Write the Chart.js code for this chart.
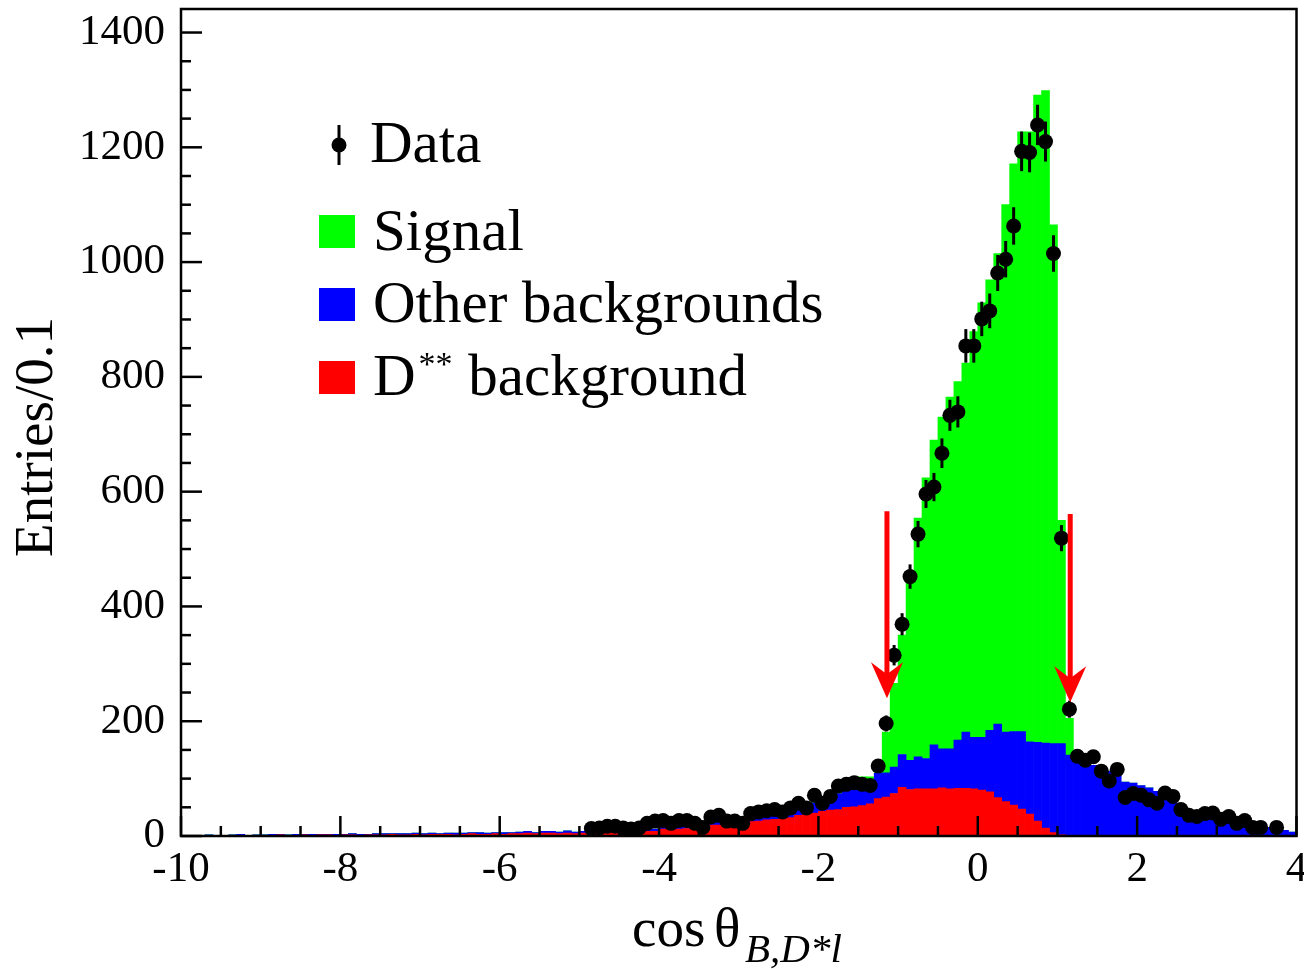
<!DOCTYPE html>
<html>
<head>
<meta charset="utf-8">
<title>cos theta B,D*l</title>
<script src="https://cdn.jsdelivr.net/npm/chart.js@4.4.1/dist/chart.umd.min.js"></script>
<style>
  html, body { margin: 0; padding: 0; background: #fff; }
  canvas { display: block; }
</style>
</head>
<body>
<canvas id="cosThetaChart" width="1304" height="969"></canvas>
<script>
// histogram binning: 140 bins of 0.1 from -10 to 4
const X_MIN = -10;
const X_MAX = 4;
const BIN_WIDTH = 0.1;
const binCenters = [];
for (let i = 0; i < 140; i++) binCenters.push(+(X_MIN + BIN_WIDTH * (i + 0.5)).toFixed(2));

const yTickLabels = [0, 200, 400, 600, 800, 1000, 1200, 1400];
const xTickLabels = [-10, -8, -6, -4, -2, 0, 2, 4];

// D** background (red), bottom of the stack
const dstarBkg = [
  0, 1, 0, 1, 1, 0, 1, 1, 0, 1,
  1, 1, 2, 1, 1, 2, 1, 2, 2, 1,
  2, 2, 1, 2, 2, 2, 3, 2, 2, 3,
  2, 3, 3, 3, 2, 3, 4, 3, 3, 4,
  3, 4, 4, 5, 4, 5, 5, 4, 5, 4,
  5, 5, 5, 6, 6, 6, 7, 7, 8, 8,
  12, 12, 12, 13, 14, 16, 19, 19, 20, 22,
  24, 25, 26, 28, 29, 30, 32, 36, 38, 40,
  43, 45, 46, 50, 51, 53, 56, 65, 68, 74,
  85, 81, 82, 82, 82, 84, 82, 83, 83, 82,
  80, 77, 67, 60, 54, 47, 38, 26, 14, 6,
  2, 1, 1, 0, 0, 0, 0, 0, 0, 0,
  0, 0, 0, 0, 0, 0, 0, 0, 0, 0,
  0, 0, 0, 0, 0, 0, 0, 0, 0, 0
];

// Other backgrounds (blue), stacked on the red
const otherBkg = [
  1, 0, 1, 1, 0, 1, 1, 2, 1, 1,
  1, 2, 1, 1, 2, 1, 2, 1, 1, 2,
  1, 2, 2, 1, 2, 2, 1, 2, 2, 2,
  2, 2, 1, 2, 3, 2, 2, 3, 2, 2,
  3, 2, 3, 3, 2, 3, 3, 3, 4, 3,
  3, 4, 3, 4, 4, 3, 4, 4, 5, 4,
  4, 5, 5, 5, 6, 5, 6, 6, 7, 6,
  6, 7, 6, 7, 7, 6, 8, 14, 16, 18,
  19, 20, 28, 35, 42, 44, 42, 44, 42, 46,
  57, 51, 56, 53, 77, 68, 70, 84, 98, 90,
  92, 107, 128, 121, 128, 135, 126, 137, 148, 155,
  159, 140, 134, 130, 123, 115, 113, 110, 94, 92,
  88, 84, 78, 70, 62, 55, 42, 38, 35, 34,
  30, 28, 26, 23, 20, 17, 15, 14, 10, 7
];

// Signal (green), top of the stack
const signalMC = [
  0, 0, 0, 0, 0, 0, 0, 0, 0, 0,
  0, 0, 0, 0, 0, 0, 0, 0, 0, 0,
  0, 0, 0, 0, 0, 0, 0, 0, 0, 0,
  0, 0, 0, 0, 0, 0, 0, 0, 0, 0,
  0, 0, 0, 0, 0, 0, 0, 0, 0, 0,
  0, 0, 0, 0, 0, 0, 0, 0, 0, 0,
  1, 0, 1, 1, 0, 1, 1, 1, 0, 1,
  1, 1, 1, 2, 1, 2, 1, 2, 2, 2,
  2, 3, 3, 2, 3, 6, 5, 16, 71, 146,
  208, 316, 416, 489, 531, 578, 613, 625, 643, 707,
  757, 785, 820, 919, 989, 1045, 1063, 1128, 1137, 904,
  389, 64, 0, 0, 0, 0, 0, 0, 0, 0,
  0, 0, 0, 0, 0, 0, 0, 0, 0, 0,
  0, 0, 0, 0, 0, 0, 0, 0, 0, 0
];

// Data entries (null = no marker drawn)
const dataCounts = [
  null, null, null, null, null, null, null, null, null, null,
  null, null, null, null, null, null, null, null, null, null,
  null, null, null, null, null, null, null, null, null, null,
  null, null, null, null, null, null, null, null, null, null,
  null, null, null, null, null, null, null, null, null, null,
  null, 13, 14, 17, 17, 14, 12, 14, 22, 26,
  27, 22, 27, 27, 22, 15, 33, 36, 26, 26,
  22, 39, 42, 44, 46, 42, 49, 57, 49, 71,
  57, 69, 87, 90, 93, 90, 88, 122, 196, 315,
  369, 452, 526, 596, 608, 667, 733, 739, 854, 854,
  901, 915, 981, 1005, 1063, 1193, 1191, 1239, 1210, 1015,
  519, 221, 139, 132, 138, 113, 96, 116, 67, 74,
  71, 63, 57, 75, 69, 46, 36, 34, 39, 40,
  29, 34, 22, 27, 15, 15, null, 15, null, null
];

// selection cut arrows
const cutArrows = [
  { x: -1.14, from: 566, to: 240 },
  { x: 1.16, from: 561, to: 233 }
];

const SERIF = "'Liberation Serif', 'Times New Roman', serif";
const GREEN = '#00ff00';
const BLUE = '#0000ff';
const RED = '#ff0000';

function toXY(values) {
    return values.map((v, i) => ({ x: binCenters[i], y: v }));
}

/**
 * Error bars (sqrt N) under the data markers.
 */
const errorBars = {
    id: 'errorBars',
    beforeDatasetDraw(chart, args) {
        if (chart.data.datasets[args.index].label !== 'Data') return;
        const { ctx, scales: { x, y } } = chart;
        ctx.save();
        ctx.strokeStyle = '#000';
        ctx.lineWidth = 3;
        dataCounts.forEach((n, i) => {
            if (n === null) return;
            const err = Math.sqrt(n);
            const px = x.getPixelForValue(binCenters[i]);
            ctx.beginPath();
            ctx.moveTo(px, y.getPixelForValue(n - err));
            ctx.lineTo(px, y.getPixelForValue(n + err));
            ctx.stroke();
        });
        ctx.restore();
    }
};

/**
 * ROOT-like frame, inward ticks, arrows, legend and axis titles.
 */
const rootDecor = {
    id: 'rootDecor',
    afterDraw(chart) {
        const { ctx, chartArea: a, scales: { x, y } } = chart;
        ctx.save();

        // cut arrows
        ctx.strokeStyle = RED;
        ctx.fillStyle = RED;
        ctx.lineWidth = 5;
        cutArrows.forEach(ar => {
            const px = x.getPixelForValue(ar.x);
            const top = y.getPixelForValue(ar.from);
            const tip = y.getPixelForValue(ar.to);
            ctx.beginPath();
            ctx.moveTo(px, top);
            ctx.lineTo(px, tip - 20);
            ctx.stroke();
            ctx.beginPath();
            ctx.moveTo(px, tip);
            ctx.lineTo(px - 16, tip - 36);
            ctx.lineTo(px, tip - 24);
            ctx.lineTo(px + 16, tip - 36);
            ctx.closePath();
            ctx.fill();
        });

        // frame
        ctx.strokeStyle = '#000';
        ctx.lineWidth = 2.5;
        ctx.strokeRect(a.left, a.top, a.right - a.left, a.bottom - a.top);

        // x ticks, every 0.5, long ones every 2
        for (let v = X_MIN; v <= X_MAX + 1e-9; v += 0.5) {
            const px = x.getPixelForValue(v);
            const len = Math.abs(v % 2) < 1e-9 ? 20 : 10;
            ctx.beginPath();
            ctx.moveTo(px, a.bottom);
            ctx.lineTo(px, a.bottom - len);
            ctx.stroke();
        }
        // y ticks, every 50, long ones every 200
        for (let v = 0; v <= 1400; v += 50) {
            const py = y.getPixelForValue(v);
            const len = v % 200 === 0 ? 21 : 10;
            ctx.beginPath();
            ctx.moveTo(a.left, py);
            ctx.lineTo(a.left + len, py);
            ctx.stroke();
        }

        // legend
        ctx.fillStyle = '#000';
        ctx.lineWidth = 3;
        ctx.beginPath();
        ctx.moveTo(339, 125);
        ctx.lineTo(339, 165);
        ctx.stroke();
        ctx.beginPath();
        ctx.arc(339, 145, 7.5, 0, Math.PI * 2);
        ctx.fill();

        const legendFont = '59px ' + SERIF;
        ctx.font = legendFont;
        ctx.textBaseline = 'alphabetic';
        ctx.textAlign = 'left';
        ctx.fillText('Data', 370, 162);

        ctx.fillStyle = GREEN;
        ctx.fillRect(319, 215, 36, 33);
        ctx.fillStyle = BLUE;
        ctx.fillRect(319, 288, 36, 33);
        ctx.fillStyle = RED;
        ctx.fillRect(319, 361, 36, 33);

        ctx.fillStyle = '#000';
        ctx.fillText('Signal', 373, 250);
        ctx.fillText('Other backgrounds', 373, 322);
        ctx.fillText('D', 373, 395);
        const dW = ctx.measureText('D').width;
        ctx.font = '34px ' + SERIF;
        ctx.fillText('**', 373 + dW + 3, 375);
        const sW = ctx.measureText('**').width;
        ctx.font = legendFont;
        ctx.fillText(' background', 373 + dW + 4 + sW, 395);

        // y title
        ctx.save();
        ctx.translate(38, 437);
        ctx.rotate(-Math.PI / 2);
        ctx.textAlign = 'center';
        ctx.textBaseline = 'middle';
        ctx.font = '55px ' + SERIF;
        ctx.fillText('Entries/0.1', 0, 0);
        ctx.restore();

        // x title: cos θ_{B,D*l}
        ctx.font = '55px ' + SERIF;
        ctx.textAlign = 'left';
        ctx.textBaseline = 'alphabetic';
        ctx.fillText('cos', 632, 946);
        ctx.fillText('θ', 714, 946);
        ctx.font = 'italic 41px ' + SERIF;
        ctx.fillText('B,D*l', 745, 962);

        ctx.restore();
    }
};

const ctx = document.getElementById('cosThetaChart').getContext('2d');
const cosThetaChart = new Chart(ctx, {
    type: 'bar',
    data: {
        datasets: [
            {
                type: 'scatter', label: 'Data',
                data: toXY(dataCounts).filter(p => p.y !== null),
                backgroundColor: '#000', borderColor: '#000',
                pointRadius: 7.5, pointHoverRadius: 7.5, borderWidth: 0,
                order: 0, stack: 'data', clip: false
            },
            {
                label: 'D** background', data: toXY(dstarBkg),
                backgroundColor: RED, borderWidth: 0, stack: 'mc', order: 1,
                barPercentage: 1, categoryPercentage: 1
            },
            {
                label: 'Other backgrounds', data: toXY(otherBkg),
                backgroundColor: BLUE, borderWidth: 0, stack: 'mc', order: 1,
                barPercentage: 1, categoryPercentage: 1
            },
            {
                label: 'Signal', data: toXY(signalMC),
                backgroundColor: GREEN, borderWidth: 0, stack: 'mc', order: 1,
                barPercentage: 1, categoryPercentage: 1
            }
        ]
    },
    options: {
        responsive: false,
        animation: false,
        layout: { padding: { top: 9, right: 3, left: 0, bottom: 0 } },
        scales: {
            x: {
                type: 'linear', min: X_MIN, max: X_MAX, offset: false, stacked: true,
                grid: { display: false, offset: false, drawTicks: false },
                border: { display: false },
                afterBuildTicks: s => { s.ticks = xTickLabels.map(v => ({ value: v })); },
                ticks: {
                    autoSkip: false, maxRotation: 0, padding: 8, color: '#000',
                    font: { family: SERIF, size: 43 },
                    callback: v => String(v)
                },
                afterFit: s => { s.height = 133; s.paddingLeft = 0; s.paddingRight = 0; }
            },
            y: {
                min: 0, max: 1441, stacked: true,
                grid: { display: false, drawTicks: false },
                border: { display: false },
                afterBuildTicks: s => { s.ticks = yTickLabels.map(v => ({ value: v })); },
                ticks: {
                    padding: 16, color: '#000',
                    font: { family: SERIF, size: 43 },
                    callback: v => String(v)
                },
                afterFit: s => { s.width = 181; s.paddingTop = 0; s.paddingBottom = 0; }
            }
        },
        plugins: {
            legend: { display: false },
            tooltip: { enabled: false }
        }
    },
    plugins: [errorBars, rootDecor]
});
</script>
</body>
</html>
